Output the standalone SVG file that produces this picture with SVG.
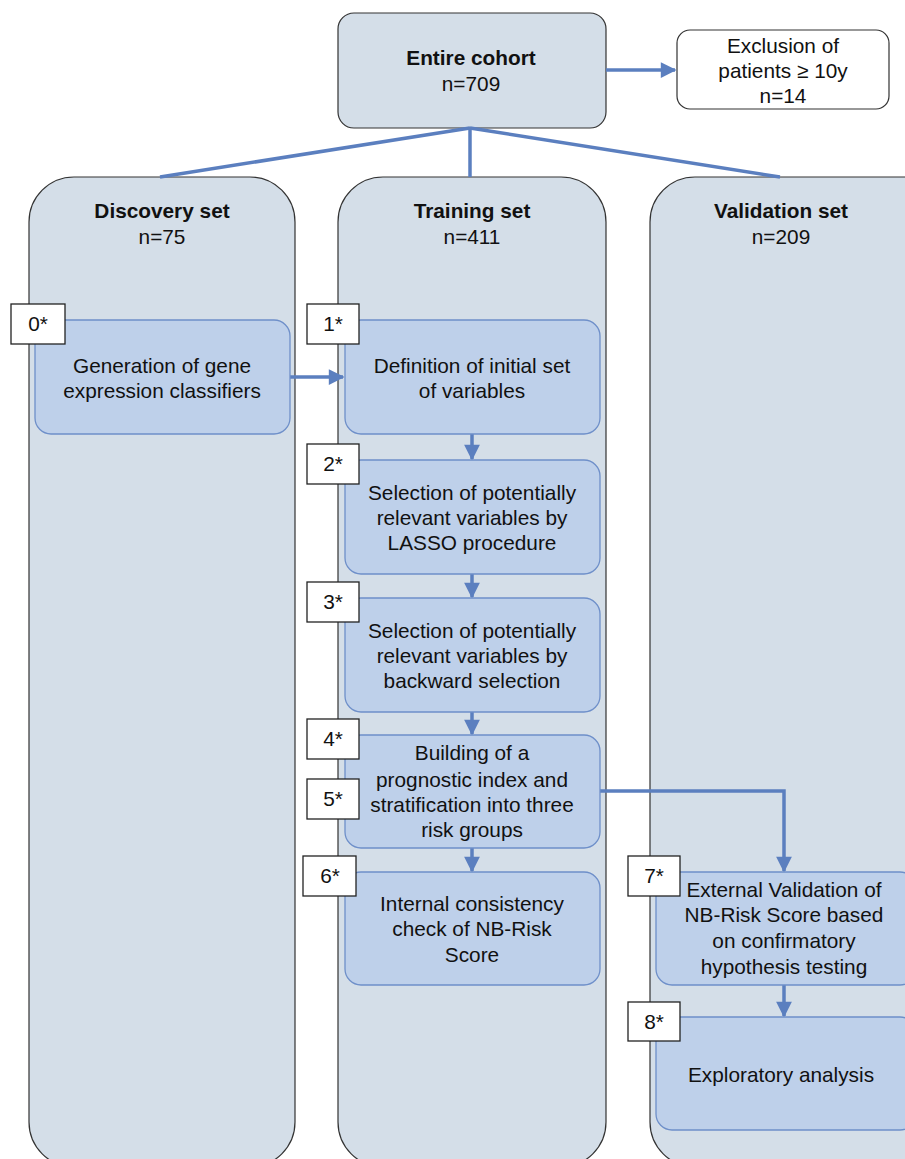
<svg xmlns="http://www.w3.org/2000/svg" width="905" height="1159" viewBox="0 0 905 1159">
<defs>
<style>
text{font-family:"Liberation Sans",Arial,sans-serif;font-size:20.8px;fill:#111;text-anchor:middle}
.b{font-weight:bold}
.col{fill:#d4dee8;stroke:#333;stroke-width:1.2}
.top{fill:#d4dee8;stroke:#333;stroke-width:1.2}
.ex{fill:#fff;stroke:#333;stroke-width:1.2}
.in{fill:#bed0ea;stroke:#6e8fc9;stroke-width:1.3}
.lab{fill:#fff;stroke:#222;stroke-width:1.3}
.c{fill:none;stroke:#5b7fbf;stroke-width:3.5}
</style>
<marker id="ah" viewBox="0 0 10 10" refX="9" refY="5" markerWidth="5.5" markerHeight="4.5" markerUnits="strokeWidth" orient="auto">
<path d="M0,0 L10,5 L0,10 z" fill="#5b7fbf"/>
</marker>
</defs>
<g id="col-discovery">
<rect class="col" x="29" y="177" width="266" height="990" rx="45"/>
<text class="b" x="162" y="218">Discovery set</text>
<text x="162" y="244">n=75</text>
</g>
<g id="col-training">
<rect class="col" x="338" y="177" width="268" height="990" rx="45"/>
<text class="b" x="472" y="218">Training set</text>
<text x="472" y="244">n=411</text>
</g>
<g id="col-validation">
<rect class="col" x="650" y="177" width="300" height="990" rx="45"/>
<text class="b" x="781" y="218">Validation set</text>
<text x="781" y="244">n=209</text>
</g>
<g id="cohort">
<rect class="top" x="338" y="13" width="268" height="115" rx="16"/>
<text class="b" x="471" y="65">Entire cohort</text>
<text x="471" y="91">n=709</text>
</g>
<g id="exclusion">
<rect class="ex" x="677" y="30" width="212" height="79" rx="13"/>
<text x="783" y="53">Exclusion of</text>
<text x="783" y="78">patients ≥ 10y</text>
<text x="783" y="103">n=14</text>
</g>
<g id="connectors">
<line class="c" x1="470" y1="128" x2="160" y2="177"/>
<line class="c" x1="470" y1="128" x2="470" y2="177"/>
<line class="c" x1="470" y1="128" x2="780" y2="177"/>
<line class="c" x1="606" y1="70" x2="675" y2="70" marker-end="url(#ah)"/>
<line class="c" x1="290" y1="377" x2="343" y2="377" marker-end="url(#ah)"/>
<line class="c" x1="472" y1="434" x2="472" y2="459" marker-end="url(#ah)"/>
<line class="c" x1="472" y1="574" x2="472" y2="597" marker-end="url(#ah)"/>
<line class="c" x1="472" y1="712" x2="472" y2="734" marker-end="url(#ah)"/>
<line class="c" x1="472" y1="848" x2="472" y2="871" marker-end="url(#ah)"/>
<polyline class="c" points="600,791 784,791 784,871" marker-end="url(#ah)"/>
<line class="c" x1="784" y1="985" x2="784" y2="1016" marker-end="url(#ah)"/>
</g>
<g id="step0">
<rect class="in" x="35" y="320" width="255" height="114" rx="16"/>
<text x="162" y="373">Generation of gene</text>
<text x="162" y="398">expression classifiers</text>
<rect class="lab" x="11" y="304" width="54" height="40"/>
<text x="38" y="331">0*</text>
</g>
<g id="step1">
<rect class="in" x="345" y="320" width="255" height="114" rx="16"/>
<text x="472" y="373">Definition of initial set</text>
<text x="472" y="398">of variables</text>
<rect class="lab" x="307" y="304" width="52" height="40"/>
<text x="333" y="331">1*</text>
</g>
<g id="step2">
<rect class="in" x="345" y="460" width="255" height="114" rx="16"/>
<text x="472" y="500">Selection of potentially</text>
<text x="472" y="525">relevant variables by</text>
<text x="472" y="550">LASSO procedure</text>
<rect class="lab" x="307" y="444" width="52" height="40"/>
<text x="333" y="471">2*</text>
</g>
<g id="step3">
<rect class="in" x="345" y="598" width="255" height="114" rx="16"/>
<text x="472" y="638">Selection of potentially</text>
<text x="472" y="663">relevant variables by</text>
<text x="472" y="688">backward selection</text>
<rect class="lab" x="307" y="582" width="52" height="40"/>
<text x="333" y="609">3*</text>
</g>
<g id="step45">
<rect class="in" x="345" y="735" width="255" height="113" rx="16"/>
<text x="472" y="760">Building of a</text>
<text x="472" y="787">prognostic index and</text>
<text x="472" y="812">stratification into three</text>
<text x="472" y="837">risk groups</text>
<rect class="lab" x="307" y="719" width="52" height="40"/>
<text x="333" y="746">4*</text>
<rect class="lab" x="307" y="779" width="52" height="40"/>
<text x="333" y="806">5*</text>
</g>
<g id="step6">
<rect class="in" x="345" y="872" width="255" height="113" rx="16"/>
<text x="472" y="911">Internal  consistency</text>
<text x="472" y="936">check of NB-Risk</text>
<text x="472" y="962">Score</text>
<rect class="lab" x="303" y="856" width="53" height="40"/>
<text x="330" y="883">6*</text>
</g>
<g id="step7">
<rect class="in" x="656" y="872" width="260" height="113" rx="16"/>
<text x="784" y="897">External  Validation of</text>
<text x="784" y="922">NB-Risk Score based</text>
<text x="784" y="948">on  confirmatory</text>
<text x="784" y="974">hypothesis  testing</text>
<rect class="lab" x="628" y="856" width="52" height="40"/>
<text x="654" y="883">7*</text>
</g>
<g id="step8">
<rect class="in" x="656" y="1017" width="260" height="113" rx="16"/>
<text x="781" y="1082">Exploratory  analysis</text>
<rect class="lab" x="628" y="1002" width="52" height="39"/>
<text x="654" y="1029">8*</text>
</g>
</svg>
